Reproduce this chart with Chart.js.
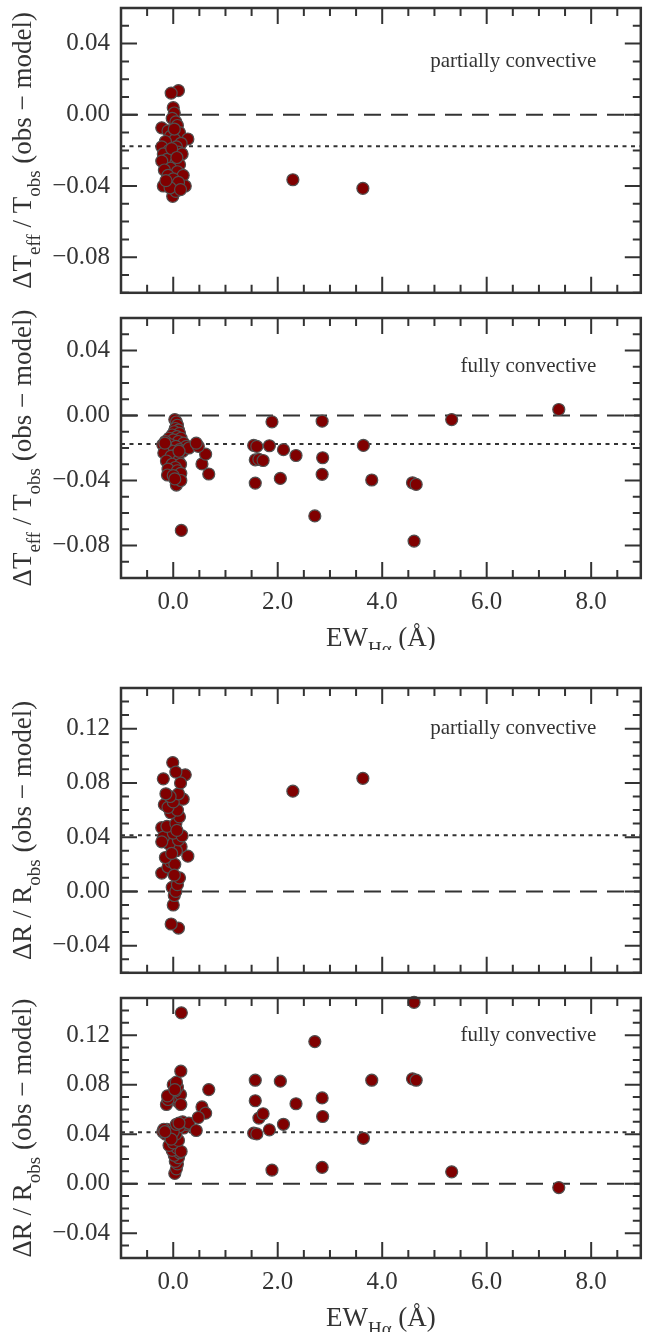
<!DOCTYPE html>
<html>
<head>
<meta charset="utf-8">
<script src="https://cdn.jsdelivr.net/npm/chart.js@4.4.1/dist/chart.umd.min.js"></script>
<style>
body { margin: 0; background: #fff; }
#wrap { position: relative; width: 648px; height: 1332px; overflow: hidden; }
canvas { position: absolute; left: 0; }
</style>
</head>
<body>
<div id="wrap">
  <canvas id="c1" width="648" height="300" style="top:0px"></canvas>
  <canvas id="c2" width="648" height="350" style="top:300px"></canvas>
  <canvas id="c3" width="648" height="300" style="top:680px"></canvas>
  <canvas id="c4" width="648" height="352" style="top:980px"></canvas>
</div>
<script>
// partially convective stars: EW(Halpha), dTeff/Tobs, dR/Robs
var pcEW = [0.10, -0.04, 0.00, 0.02, -0.02, 0.05, -0.22, 0.08, -0.10, 0.12,
            0.28, -0.05, 0.03, -0.15, 0.15, -0.22, 0.06, -0.08, 0.10, -0.19,
            0.00, 0.17, -0.12, -0.22, 0.05, 0.12, -0.05, -0.17, 0.08, 0.19,
            -0.10, 0.00, -0.19, 0.23, 0.10, -0.01, 0.05, -0.06, 0.14, -0.14,
            0.02, -0.03, 0.07, 2.29, 3.63];
var pcDT = [0.0136, 0.0122, 0.004, 0.001, -0.002, -0.004, -0.0073, -0.006, -0.009, -0.010,
            -0.0136, -0.012, -0.014, -0.015, -0.016, -0.018, -0.018, -0.020, -0.021, -0.022,
            -0.023, -0.022, -0.025, -0.026, -0.027, -0.028, -0.030, -0.031, -0.032, -0.034,
            -0.034, -0.036, -0.040, -0.040, -0.038, -0.0458, -0.043, -0.041, -0.042, -0.037,
            -0.008, -0.019, -0.024, -0.0365, -0.0413];
var pcDR = [-0.027, -0.024, -0.010, -0.003, 0.003, 0.000, 0.0135, 0.005, 0.018, 0.010,
            0.026, 0.022, 0.020, 0.025, 0.033, 0.047, 0.030, 0.035, 0.038, 0.040,
            0.043, 0.041, 0.048, 0.0366, 0.050, 0.055, 0.058, 0.064, 0.060, 0.068,
            0.062, 0.066, 0.083, 0.086, 0.072, 0.095, 0.088, 0.070, 0.080, 0.072,
            0.012, 0.028, 0.045, 0.0739, 0.0834];

// fully convective stars
var fcEW = [0.03, 0.06, 0.08, 0.04, 0.10, 0.02, 0.12, -0.02, 0.07, -0.08,
            0.15, 0.00, -0.15, 0.10, 0.20, -0.20, -0.05, 0.05, 0.25, -0.12,
            0.12, 0.00, -0.18, 0.18, 0.06, -0.04, -0.13, 0.10, -0.02, 0.14,
            0.04, -0.10, 0.08, -0.11, 0.145, 0.00, 0.06, 0.145, 0.03, -0.16,
            0.30, 0.11, 0.68, 0.55, 0.62, 0.48, 0.44, 0.155, 1.54, 1.60,
            1.84, 1.57, 1.57, 1.64, 1.72, 1.89, 2.05, 2.11, 2.35, 2.71,
            2.85, 2.86, 2.85, 3.64, 3.80, 4.58, 4.65, 4.61, 5.33, 7.38];
var fcDT = [-0.0025, -0.004, -0.006, -0.008, -0.009, -0.010, -0.011, -0.012, -0.013, -0.014,
            -0.014, -0.015, -0.016, -0.016, -0.017, -0.018, -0.018, -0.019, -0.019, -0.020,
            -0.021, -0.022, -0.023, -0.022, -0.024, -0.025, -0.028, -0.028, -0.030, -0.030,
            -0.032, -0.033, -0.034, -0.0366, -0.0356, -0.037, -0.0428, -0.040, -0.039, -0.017,
            -0.020, -0.022, -0.036, -0.0298, -0.0238, -0.019, -0.017, -0.0707, -0.0184, -0.0190,
            -0.0186, -0.0416, -0.0273, -0.0270, -0.0277, -0.0039, -0.0387, -0.0210, -0.0246, -0.0618,
            -0.0362, -0.0260, -0.0035, -0.0184, -0.0397, -0.0414, -0.0424, -0.0773, -0.0025, 0.0037];
var fcDR = [0.0083, 0.012, 0.016, 0.018, 0.021, 0.023, 0.025, 0.027, 0.029, 0.031,
            0.026, 0.033, 0.040, 0.035, 0.045, 0.042, 0.038, 0.040, 0.048, 0.044,
            0.046, 0.042, 0.044, 0.050, 0.048, 0.036, 0.064, 0.066, 0.070, 0.072,
            0.075, 0.068, 0.078, 0.071, 0.064, 0.080, 0.082, 0.0909, 0.076, 0.042,
            0.049, 0.049, 0.076, 0.062, 0.057, 0.0535, 0.043, 0.138, 0.0408, 0.0402,
            0.0435, 0.0836, 0.0670, 0.0530, 0.0565, 0.0110, 0.0828, 0.0480, 0.0646, 0.1148,
            0.0693, 0.0543, 0.0132, 0.0367, 0.0836, 0.0847, 0.0836, 0.1465, 0.0096, -0.0031];

var xTicks = [0, 2, 4, 6, 8];
var dtTicks = [-0.08, -0.04, 0.00, 0.04];
var drTicks = [-0.04, 0.00, 0.04, 0.08, 0.12];
var dtMean = -0.0176;
var drMean = 0.0415;

var INK = '#333333';
var SERIF = '"Liberation Serif", "Times New Roman", serif';

function pts(xs, ys) {
    return xs.map(function (x, i) { return { x: x, y: ys[i] }; });
}

function minus(s) {
    return s.replace('-', '\u2212');
}

function drawRich(ctx, parts, x, y) {
    var big = '27px ' + SERIF, small = '19px ' + SERIF;
    var w = 0;
    parts.forEach(function (p) {
        ctx.font = p[1] ? small : big;
        w += ctx.measureText(p[0]).width;
    });
    var cx = x - w / 2;
    ctx.textAlign = 'left';
    ctx.textBaseline = 'alphabetic';
    parts.forEach(function (p) {
        ctx.font = p[1] ? small : big;
        ctx.fillText(p[0], cx, y + (p[1] ? 9 : 0));
        cx += ctx.measureText(p[0]).width;
    });
}

// frame, inward ticks on all sides, labels and titles
var framePlugin = {
    id: 'frame',
    afterDatasetsDraw: function (chart) {
        var o = chart.options.plugins.frame;
        var ctx = chart.ctx, a = chart.chartArea;
        var xs = chart.scales.x, ys = chart.scales.y;
        ctx.save();
        ctx.strokeStyle = INK;
        ctx.lineWidth = 2;
        ctx.beginPath();
        var i, v, p, len;
        for (i = Math.ceil(xs.min / 0.5); i * 0.5 <= xs.max + 1e-9; i++) {
            v = i * 0.5;
            p = xs.getPixelForValue(v);
            len = (i % 4 === 0) ? 16 : 8;
            ctx.moveTo(p, a.bottom); ctx.lineTo(p, a.bottom - len);
            ctx.moveTo(p, a.top); ctx.lineTo(p, a.top + len);
        }
        for (i = Math.ceil(ys.min / 0.01 - 1e-6); i * 0.01 <= ys.max + 1e-9; i++) {
            v = i * 0.01;
            p = ys.getPixelForValue(v);
            len = (i % 4 === 0) ? 16 : 8;
            ctx.moveTo(a.left, p); ctx.lineTo(a.left + len, p);
            ctx.moveTo(a.right, p); ctx.lineTo(a.right - len, p);
        }
        ctx.stroke();
        ctx.lineWidth = 2.5;
        ctx.strokeRect(a.left, a.top, a.right - a.left, a.bottom - a.top);

        ctx.fillStyle = INK;
        ctx.font = '21px ' + SERIF;
        ctx.textAlign = 'right';
        ctx.textBaseline = 'middle';
        ctx.fillText(o.label, xs.getPixelForValue(o.labelX), ys.getPixelForValue(o.labelY));

        ctx.save();
        ctx.translate(31, (a.top + a.bottom) / 2);
        ctx.rotate(-Math.PI / 2);
        drawRich(ctx, o.yTitle, 0, 0);
        ctx.restore();

        if (o.xTitle) {
            drawRich(ctx, o.xTitle, (a.left + a.right) / 2, a.bottom + 68);
        }
        ctx.restore();
    }
};

function makeChart(id, ex, ey, ticksY, yMin, yMax, mean, label, labelY, yTitle, showX, padTop, padBottom, xAxisH) {
    new Chart(document.getElementById(id), {
        type: 'scatter',
        data: {
            datasets: [
                {
                    data: pts(ex, ey),
                    backgroundColor: '#800000',
                    borderColor: '#505050',
                    borderWidth: 1.2,
                    pointRadius: 6,
                    clip: false
                },
                {
                    type: 'line',
                    data: [{ x: -1, y: 0 }, { x: 8.95, y: 0 }],
                    borderColor: INK,
                    borderWidth: 2,
                    borderDash: [17, 10],
                    pointRadius: 0
                },
                {
                    type: 'line',
                    data: [{ x: -1, y: mean }, { x: 8.95, y: mean }],
                    borderColor: INK,
                    borderWidth: 2,
                    borderDash: [4, 4.5],
                    pointRadius: 0
                }
            ]
        },
        options: {
            responsive: false,
            animation: false,
            layout: { padding: { top: padTop, bottom: padBottom, left: 0, right: 1.5 } },
            plugins: {
                legend: { display: false },
                tooltip: { enabled: false },
                frame: {
                    label: label, labelX: 8.1, labelY: labelY,
                    yTitle: yTitle,
                    xTitle: showX ? [['EW', false], ['H\u03b1', true], [' (\u00c5)', false]] : null
                }
            },
            scales: {
                x: {
                    type: 'linear',
                    min: -1, max: 8.95,
                    grid: { display: false, drawTicks: false },
                    border: { display: false },
                    afterBuildTicks: function (s) { s.ticks = xTicks.map(function (v) { return { value: v }; }); },
                    afterFit: function (s) {
                        s.height = xAxisH;
                        s.paddingLeft = 0; s.paddingRight = 0; s.paddingTop = 0; s.paddingBottom = 0;
                    },
                    ticks: {
                        display: showX,
                        padding: 9,
                        color: INK,
                        font: { family: SERIF, size: 25 },
                        maxRotation: 0,
                        callback: function (v) { return minus(Number(v).toFixed(1)); }
                    }
                },
                y: {
                    type: 'linear',
                    min: yMin, max: yMax,
                    grid: { display: false, drawTicks: false },
                    border: { display: false },
                    afterBuildTicks: function (s) { s.ticks = ticksY.map(function (v) { return { value: v }; }); },
                    afterFit: function (s) {
                        s.width = 121;
                        s.paddingLeft = 0; s.paddingRight = 0; s.paddingTop = 0; s.paddingBottom = 0;
                    },
                    ticks: {
                        padding: 11,
                        color: INK,
                        font: { family: SERIF, size: 25 },
                        callback: function (v) { return minus(Number(v).toFixed(2)); }
                    }
                }
            }
        },
        plugins: [framePlugin]
    });
}

var dtTitle = [['\u0394T', false], ['eff', true], [' / T', false], ['obs', true], [' (obs \u2212 model)', false]];
var drTitle = [['\u0394R / R', false], ['obs', true], [' (obs \u2212 model)', false]];

makeChart('c1', pcEW, pcDT, dtTicks, -0.10, 0.06, dtMean, 'partially convective', 0.03, dtTitle, false, 8, 7, 0);
makeChart('c2', fcEW, fcDT, dtTicks, -0.10, 0.06, dtMean, 'fully convective', 0.03, dtTitle, true, 18, 0, 72);
makeChart('c3', pcEW, pcDR, drTicks, -0.06, 0.15, drMean, 'partially convective', 0.12, drTitle, false, 8, 7, 0);
makeChart('c4', fcEW, fcDR, drTicks, -0.06, 0.15, drMean, 'fully convective', 0.12, drTitle, true, 18, 0, 74);
</script>
</body>
</html>
